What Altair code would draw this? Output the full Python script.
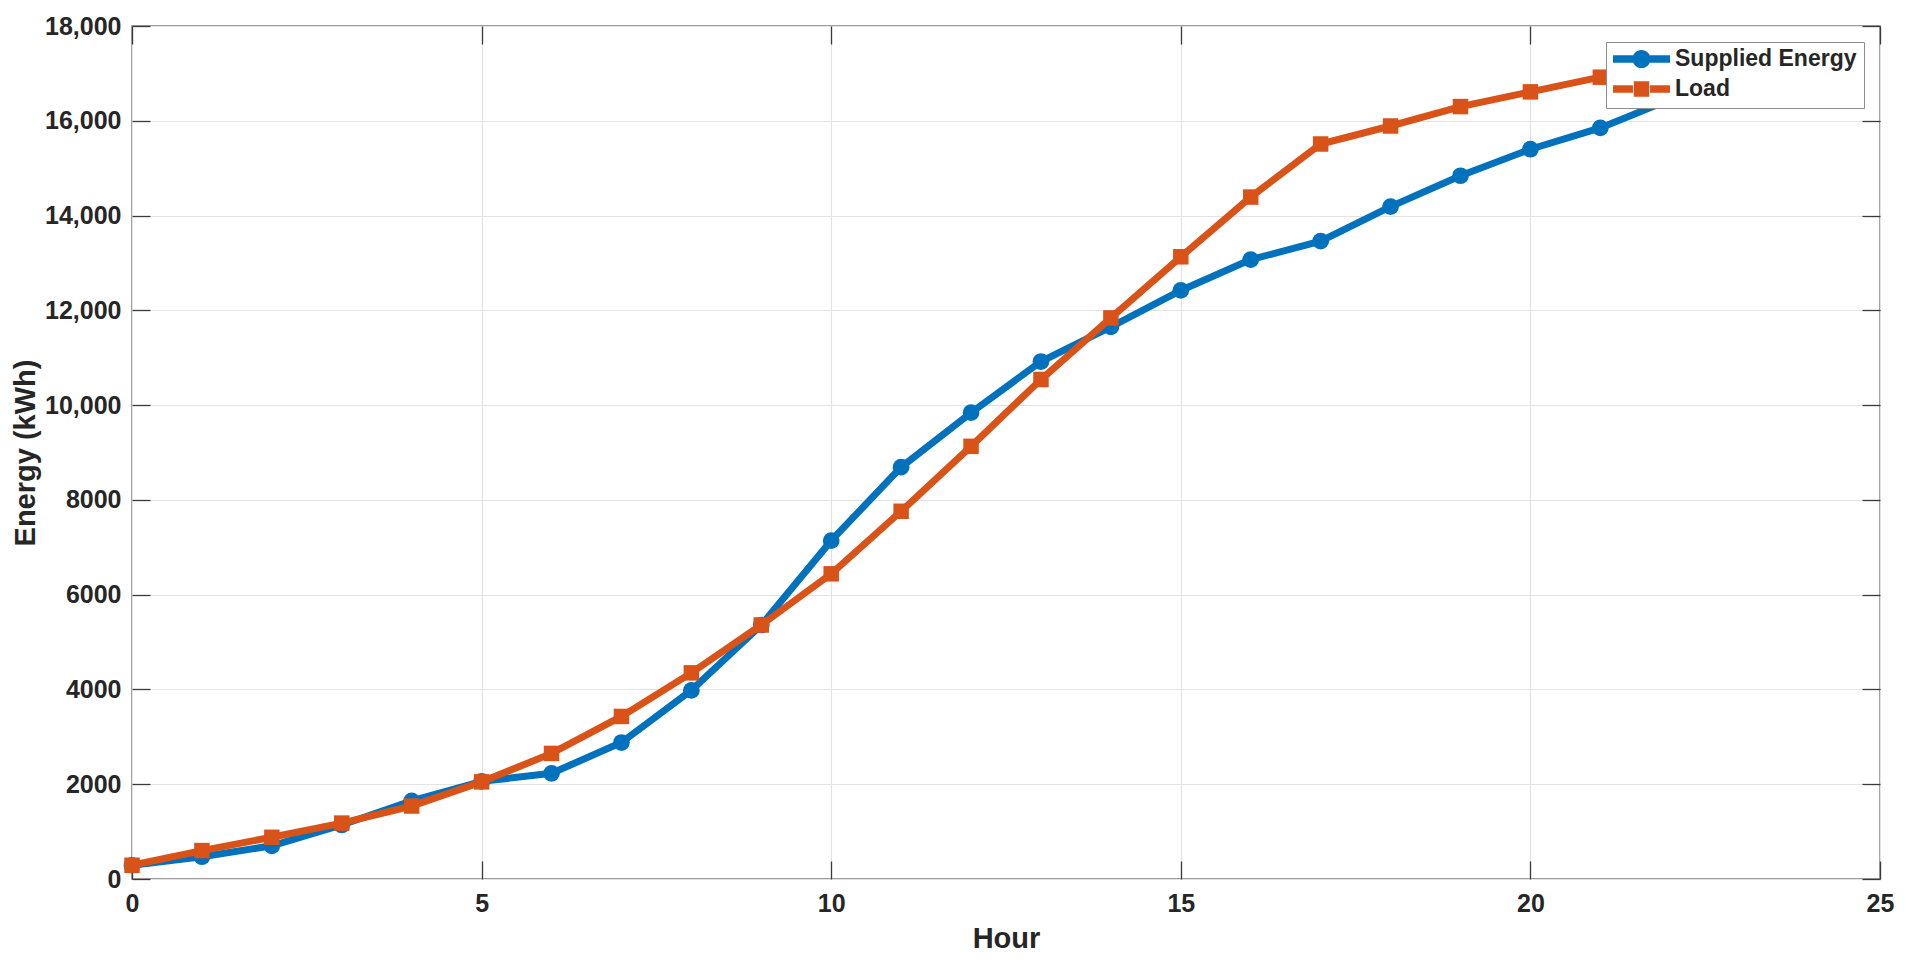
import altair as alt
import pandas as pd

hours = list(range(24))
supplied = [290, 470, 700, 1140, 1650, 2060, 2230, 2880, 3980, 5360, 7140, 8690,
            9840, 10920, 11650, 12420, 13070, 13460, 14190, 14840, 15400, 15850, 16450, 16900]
load = [290, 600, 880, 1180, 1540, 2050, 2650, 3430, 4350, 5360, 6440, 7760,
        9130, 10540, 11840, 13130, 14390, 15510, 15890, 16300, 16610, 16920, 17150, 17400]
series_names = ["Supplied Energy", "Load"]
series_colors = ["#0072BD", "#D95319"]
x_ticks = [0, 5, 10, 15, 20, 25]
y_ticks = list(range(0, 18001, 2000))

df = pd.DataFrame({
    "hour": hours + hours,
    "series": [series_names[0]] * len(hours) + [series_names[1]] * len(hours),
    "energy": supplied + load,
})

FONT = "Liberation Sans"
TXT = "#262626"
TICK = "#3a3a3a"

xs = alt.Scale(domain=[0, 25], nice=False, zero=False)
ys = alt.Scale(domain=[0, 18000], nice=False)
cs = alt.Scale(domain=series_names, range=series_colors)

circle_path = ("M-1,-0.13H-0.3V0.13H-1Z M0.3,-0.13H1V0.13H0.3Z "
               "M-0.32,0A0.32,0.32 0 1,1 0.32,0A0.32,0.32 0 1,1 -0.32,0Z")
square_path = ("M-1,-0.13H-0.3V0.13H-1Z M0.3,-0.13H1V0.13H0.3Z "
               "M-0.27,-0.27H0.27V0.27H-0.27Z")

main_x = alt.Axis(orient="bottom", title="Hour", values=x_ticks, tickSize=0, grid=True,
                  gridColor="#e3e3e3", gridWidth=1.2, domain=False, labelFlush=False,
                  labelFont=FONT, labelFontWeight="bold", labelFontSize=25, labelColor=TXT,
                  labelPadding=12, titleFont=FONT, titleFontWeight="bold", titleFontSize=29,
                  titleColor=TXT, titlePadding=8)
main_y = alt.Axis(orient="left", title="Energy (kWh)", values=y_ticks, tickSize=0, grid=True,
                  gridColor="#e3e3e3", gridWidth=1.2, domain=False, labelFlush=False,
                  labelExpr="datum.value >= 10000 ? format(datum.value, ',') : format(datum.value, 'd')",
                  labelFont=FONT, labelFontWeight="bold", labelFontSize=25, labelColor=TXT,
                  labelPadding=11, titleFont=FONT, titleFontWeight="bold", titleFontSize=29,
                  titleColor=TXT, titlePadding=4)

def tax(orient, vals):
    return alt.Axis(orient=orient, offset=-18, tickSize=18, tickWidth=1.3, tickColor=TICK,
                    labels=False, domain=False, grid=False, title=None, values=vals)

base = alt.Chart(df)
blue = base.transform_filter(alt.datum.series == series_names[0])
orange = base.transform_filter(alt.datum.series == series_names[1])

leg = alt.Legend(title=None, orient="top-right", offset=16, fillColor="white",
                 strokeColor="#8c8c8c", padding=7, labelFont=FONT, labelFontWeight="bold",
                 labelFontSize=23, labelColor=TXT, labelLimit=400, symbolSize=3249,
                 symbolOpacity=1, symbolStrokeWidth=0, labelOffset=5, cornerRadius=0,
                 clipHeight=20, rowPadding=7)
legend_layer = base.mark_point(filled=True, opacity=0).encode(
    x=alt.X("hour:Q", scale=xs, axis=None),
    y=alt.Y("energy:Q", scale=ys, axis=None),
    color=alt.Color("series:N", scale=cs, legend=leg),
    shape=alt.Shape("series:N", scale=alt.Scale(domain=series_names, range=[circle_path, square_path]),
                    legend=leg),
)

blue_line = blue.mark_line(strokeWidth=7).encode(
    x=alt.X("hour:Q", scale=xs, axis=main_x),
    y=alt.Y("energy:Q", scale=ys, axis=main_y),
    color=alt.Color("series:N", scale=cs, legend=None),
)
blue_pts = blue.mark_point(filled=True, shape="circle", size=280, opacity=1).encode(
    x=alt.X("hour:Q", scale=xs, axis=tax("bottom", x_ticks)),
    y=alt.Y("energy:Q", scale=ys, axis=tax("left", y_ticks)),
    color=alt.Color("series:N", scale=cs, legend=None),
)
orange_line = orange.mark_line(strokeWidth=7).encode(
    x=alt.X("hour:Q", scale=xs, axis=tax("top", x_ticks)),
    y=alt.Y("energy:Q", scale=ys, axis=tax("right", y_ticks)),
    color=alt.Color("series:N", scale=cs, legend=None),
)
orange_pts = orange.mark_point(filled=True, shape="square", size=240, opacity=1).encode(
    x=alt.X("hour:Q", scale=xs, axis=None),
    y=alt.Y("energy:Q", scale=ys, axis=None),
    color=alt.Color("series:N", scale=cs, legend=None),
)

chart = alt.layer(legend_layer, blue_line, blue_pts, orange_line, orange_pts).resolve_axis(
    x="independent", y="independent"
).properties(
    width=1748, height=853,
    padding={"left": 3, "top": 6, "right": 5, "bottom": 5},
    background="white",
).configure_view(stroke="#808080", strokeWidth=1.5)

chart.save("out.html", embed_options={"renderer": "svg", "actions": False})
